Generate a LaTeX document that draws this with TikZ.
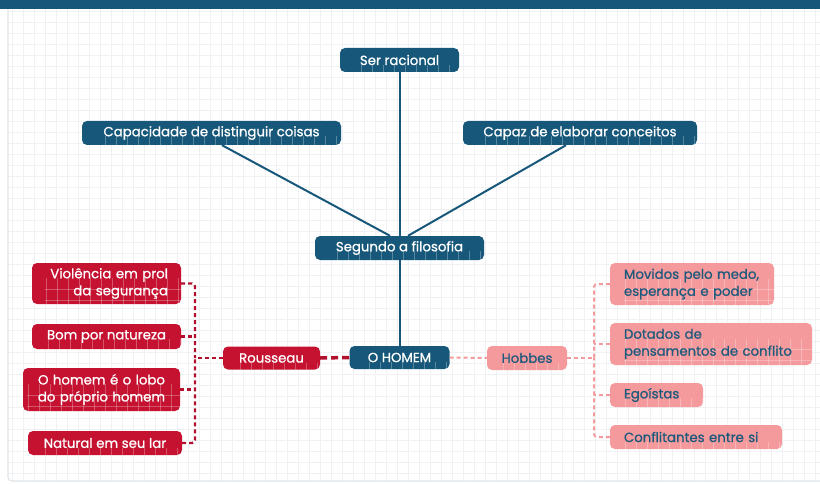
\documentclass[tikz,border=0pt]{standalone}
\usepackage{fontspec}
\setmainfont{Poppins}
\newfontfamily\medfont{Poppins}[FakeBold=0.9]
\usetikzlibrary{calc}
\definecolor{navy}{HTML}{17587A}
\definecolor{redb}{HTML}{C41230}
\definecolor{redl}{HTML}{B3102E}
\definecolor{pinkb}{HTML}{F4999C}
\definecolor{pinkt}{HTML}{1D5A7C}
\definecolor{gridc}{HTML}{F0F1F3}
\definecolor{panelc}{HTML}{E1E6EA}
\newcommand{\nowrap}[1]{\mbox{#1}}
\newcommand{\mygridlines}{%
  \foreach \gi in {0,...,75} {\draw (1.5+11*\gi,0) -- (1.5+11*\gi,490);}%
  \foreach \gj in {1,...,44} {\draw (0,11*\gj) -- (825,11*\gj);}%
}
\tikzset{
  gridover/.style={path picture={\begin{scope}[white,opacity=0.28,line width=0.8pt]\mygridlines\end{scope}}},
  boxbase/.style={rounded corners=5pt, inner sep=0pt, font=\medfont\fontsize{13.3}{17}\selectfont, gridover},
  bluebox/.style={boxbase, fill=navy, text=white},
  redbox/.style={boxbase, fill=redb, text=white},
  pinkbox/.style={boxbase, fill=pinkb, text=pinkt},
  navyline/.style={draw=navy, line width=2pt},
  redthick/.style={draw=redl, line width=3.5pt, dash pattern=on 7pt off 4pt},
  reddash/.style={draw=redl, line width=2.3pt, dash pattern=on 4pt off 3pt, rounded corners=3pt},
  pinkdash/.style={draw=pinkb, line width=2pt, dash pattern=on 4pt off 3pt, rounded corners=3pt},
}
\begin{document}
\begin{tikzpicture}[x=1pt,y=-1pt]
\useasboundingbox (0,0) rectangle (820,484);
\fill[white] (0,0) rectangle (820,484);
\begin{scope}
\clip (8,9) rectangle (820,481);
\begin{scope}[gridc, line width=0.8pt]
\mygridlines
\end{scope}
\end{scope}
\draw[panelc, line width=1.2pt, rounded corners=4pt] (8,9) -- (8,481) -- (820,481);
\fill[navy] (0,0) rectangle (820,9);

% central column
\node[bluebox, minimum width=119, minimum height=24] (ser) at (399.5,60) {Ser racional};
\node[bluebox, minimum width=259, minimum height=24] (cap) at (211.5,133) {Capacidade de distinguir coisas};
\node[bluebox, minimum width=234, minimum height=24] (capaz) at (580,133) {Capaz de elaborar conceitos};
\node[bluebox, minimum width=169, minimum height=24] (seg) at (399.5,248) {Segundo a filosofia};
\node[bluebox, minimum width=100, minimum height=23] (homem) at (399.5,357.5) {O HOMEM};

\draw[navyline] (ser.south) -- (seg.north);
\draw[navyline] ($(cap.south)+(10.5,0)$) -- ($(seg.north)+(-9.5,0)$);
\draw[navyline] ($(capaz.south)+(-14,0)$) -- ($(seg.north)+(8.5,0)$);
\draw[navyline] (seg.south) -- (homem.north);

% Rousseau side
\node[redbox, minimum width=97, minimum height=23] (rou) at (271.5,358) {Rousseau};
\node[redbox, minimum width=149, minimum height=41, text width=123, align=right] (vio) at (106.5,283.5) {\nowrap{Violência em prol}\\\nowrap{da segurança}};
\node[redbox, minimum width=149, minimum height=25] (bom) at (106.5,336.5) {Bom por natureza};
\node[redbox, minimum width=157, minimum height=43, text width=150, align=center] (lobo) at (101.5,389.5) {\nowrap{O homem é o lobo}\\\nowrap{do próprio homem}};
\node[redbox, minimum width=154, minimum height=24] (nat) at (105,443) {Natural em seu lar};
\coordinate (rj) at (195,358);

\draw[redthick] (rou.east) -- (homem.west);
\draw[reddash] (rou.west) -- (rj);
\draw[reddash] (vio.east) -| (rj);
\draw[reddash] (nat.east) -| (rj);
\draw[reddash] (bom.east) -- (bom.east -| rj);
\draw[reddash] (lobo.east) -- (lobo.east -| rj);

% Hobbes side
\node[pinkbox, minimum width=80, minimum height=24] (hob) at (527,358) {Hobbes};
\node[pinkbox, minimum width=164, minimum height=42, text width=136, align=left] (mov) at (692,284) {\nowrap{Movidos pelo medo,}\\\nowrap{esperança e poder}};
\node[pinkbox, minimum width=202, minimum height=42, text width=174, align=left] (dot) at (711,344) {\nowrap{Dotados de}\\\nowrap{pensamentos de conflito}};
\node[pinkbox, minimum width=93, minimum height=24, text width=65, align=left] (ego) at (656.5,395) {\nowrap{Egoístas}};
\node[pinkbox, minimum width=172, minimum height=24, text width=144, align=left] (conf) at (696,437) {\nowrap{Conflitantes entre si}};
\coordinate (hj) at (594,358);

\draw[pinkdash] (homem.east) -- (hob.west);
\draw[pinkdash] (hob.east) -- (hj);
\draw[pinkdash] (mov.west) -| (hj);
\draw[pinkdash] (conf.west) -| (hj);
\draw[pinkdash] (dot.west) -- (dot.west -| hj);
\draw[pinkdash] (ego.west) -- (ego.west -| hj);
\end{tikzpicture}
\end{document}
